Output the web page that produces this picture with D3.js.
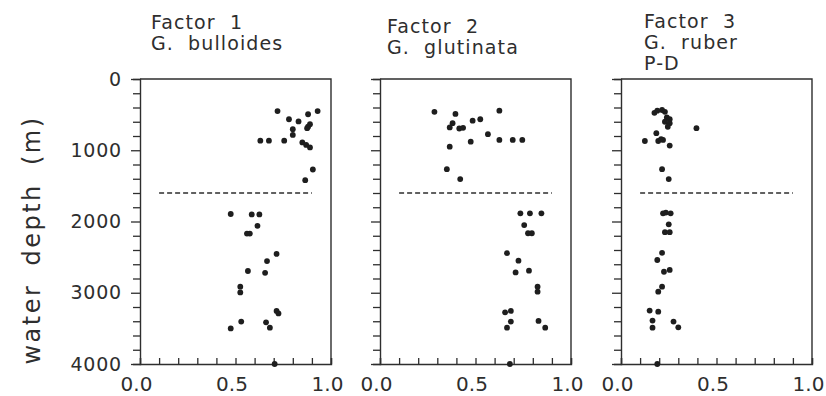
<!DOCTYPE html>
<html>
<head>
<meta charset="utf-8">
<script src="https://cdn.jsdelivr.net/npm/d3@7"></script>
<style>
  body { margin: 0; background: #fff; }
  svg { display: block; }
  text { font-family: "DejaVu Sans", sans-serif; fill: #2e2e2e; }
</style>
</head>
<body>
<svg id="chart" width="826" height="396"></svg>
<script>
// ---- data (loading, water depth m) ----
const factor1 = [
  [0.72,450],[0.93,450],[0.88,495],[0.78,565],[0.83,595],[0.89,635],[0.88,670],[0.875,690],
  [0.80,705],[0.80,785],[0.63,865],[0.675,865],[0.755,865],[0.85,890],[0.87,925],[0.89,960],
  [0.905,1270],[0.865,1420],
  [0.475,1895],[0.585,1900],[0.625,1900],[0.615,2060],[0.56,2170],[0.575,2170],[0.715,2455],
  [0.665,2555],[0.565,2695],[0.655,2720],[0.525,2915],[0.525,2995],[0.715,3255],[0.725,3290],
  [0.53,3405],[0.66,3415],[0.68,3490],[0.475,3500],[0.705,4000]
];
const factor2 = [
  [0.285,460],[0.395,490],[0.625,445],[0.485,585],[0.525,565],[0.38,620],[0.365,680],[0.415,695],
  [0.435,685],[0.565,775],[0.475,880],[0.625,855],[0.695,855],[0.745,855],[0.365,950],[0.35,1265],
  [0.42,1405],
  [0.735,1885],[0.785,1885],[0.845,1885],[0.755,2050],[0.775,2165],[0.795,2165],[0.665,2445],
  [0.725,2550],[0.71,2715],[0.78,2690],[0.825,2915],[0.825,2985],[0.655,3275],[0.685,3255],
  [0.685,3405],[0.665,3490],[0.83,3395],[0.865,3490],[0.68,4000]
];
const factor3 = [
  [0.175,475],[0.19,445],[0.215,435],[0.23,460],[0.24,540],[0.255,565],[0.23,600],[0.255,620],
  [0.245,670],[0.395,690],[0.185,760],[0.125,870],[0.195,870],[0.21,845],[0.22,855],[0.255,935],
  [0.215,1265],[0.25,1405],
  [0.22,1885],[0.235,1875],[0.26,1885],[0.25,2040],[0.23,2150],[0.255,2150],[0.215,2440],
  [0.19,2540],[0.225,2705],[0.255,2680],[0.215,2915],[0.195,2985],[0.15,3250],[0.195,3265],
  [0.165,3390],[0.165,3490],[0.275,3405],[0.30,3485],[0.19,4000]
];
const titles = [
  ["Factor 1", "G. bulloides"],
  ["Factor 2", "G. glutinata"],
  ["Factor 3", "G. ruber", "P-D"]
];
const depthTicks = [0, 1000, 2000, 3000, 4000];
const loadingTicks = [0.0, 0.5, 1.0];
const boundaryDepth = 1600;
const boundaryRange = [0.1, 0.9];
const yLabel = "water depth (m)";

// ---- layout ----
const svg = d3.select("#chart");
const ink = "#2e2e2e";
const panelLeft = [140, 380, 621];
const panelW = 191;
const plotTop = 79, plotBottom = 364;
const titleDx = [11, 7, 23];
const titleY0 = [29, 33, 28];
const datasets = [factor1, factor2, factor3];

const y = d3.scaleLinear().domain([0, 4000]).range([plotTop, plotBottom]);

datasets.forEach((data, i) => {
  const x = d3.scaleLinear().domain([0, 1]).range([panelLeft[i], panelLeft[i] + panelW]);
  const g = svg.append("g");

  // frame (top and right)
  g.append("path")
    .attr("d", `M${x(0)},${y(0)}H${x(1)}V${y(4000)}`)
    .attr("fill", "none").attr("stroke", ink).attr("stroke-width", 1.4);

  // y axis: minor ticks every 200, outside
  const yAxis = d3.axisLeft(y)
    .tickValues(d3.range(0, 4001, 200))
    .tickSize(7)
    .tickPadding(11)
    .tickFormat(d => (i === 0 && depthTicks.includes(d)) ? d3.format("d")(d) : "");
  const ya = g.append("g").attr("transform", `translate(${x(0)},0)`).call(yAxis);
  ya.select(".domain").attr("stroke", ink).attr("stroke-width", 1.4);
  ya.selectAll(".tick line").attr("stroke", ink).attr("stroke-width", 1.3)
    .attr("x2", d => depthTicks.includes(d) ? -9 : -7);
  ya.selectAll(".tick text").attr("font-size", 19).attr("fill", ink)
    .attr("font-family", "DejaVu Sans").attr("letter-spacing", 0.8);

  // x axis: ticks every 0.1, pointing inward
  const xAxis = d3.axisBottom(x)
    .tickValues(d3.range(0, 11).map(k => k / 10))
    .tickSize(-6)
    .tickPadding(13)
    .tickFormat(d => loadingTicks.some(t => Math.abs(t - d) < 1e-9) ? d3.format(".1f")(d) : "");
  const xa = g.append("g").attr("transform", `translate(0,${y(4000)})`).call(xAxis);
  xa.select(".domain").attr("stroke", ink).attr("stroke-width", 1.4);
  xa.selectAll(".tick line").attr("stroke", ink).attr("stroke-width", 1.3);
  xa.selectAll(".tick text").attr("font-size", 20).attr("fill", ink)
    .attr("font-family", "DejaVu Sans").attr("dx", -4);

  // boundary dashed line
  g.append("line")
    .attr("x1", x(boundaryRange[0])).attr("x2", x(boundaryRange[1]))
    .attr("y1", y(boundaryDepth)).attr("y2", y(boundaryDepth))
    .attr("stroke", ink).attr("stroke-width", 1.3).attr("stroke-dasharray", "5,3");

  // points
  g.selectAll("circle").data(data).join("circle")
    .attr("cx", d => x(d[0])).attr("cy", d => y(d[1]))
    .attr("r", 2.9).attr("fill", "#1e1e1e");

  // titles
  titles[i].forEach((t, k) => {
    g.append("text")
      .attr("x", x(0) + titleDx[i]).attr("y", titleY0[i] + k * 21)
      .attr("font-size", 19).attr("letter-spacing", 1.1).attr("word-spacing", 7)
      .text(t);
  });
});

// y label
svg.append("text")
  .attr("transform", `translate(40,240) rotate(-90)`)
  .attr("text-anchor", "middle")
  .attr("font-size", 24).attr("letter-spacing", 2.5).attr("word-spacing", 8)
  .text(yLabel);
</script>
</body>
</html>
